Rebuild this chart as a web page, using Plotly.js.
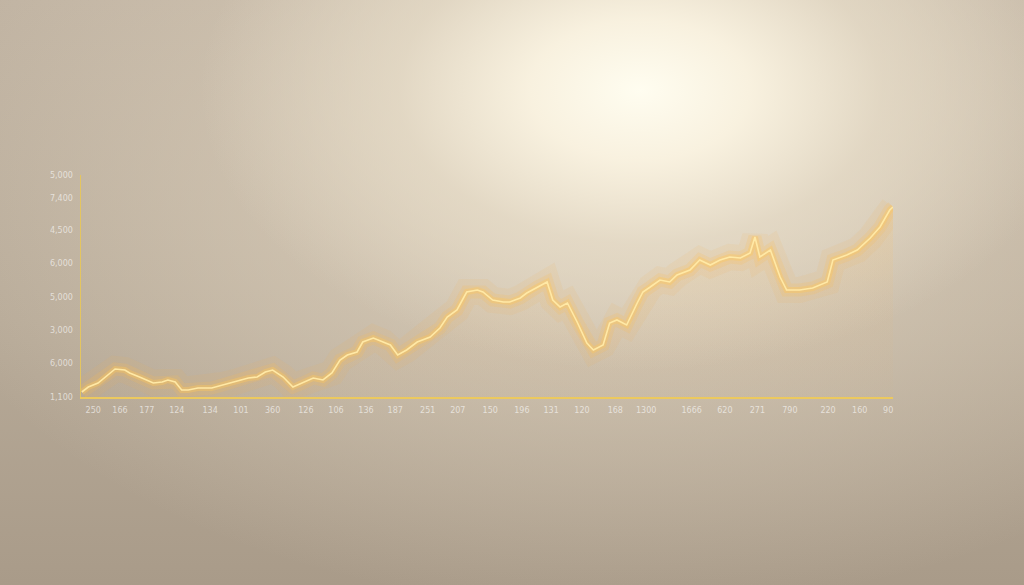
<!DOCTYPE html>
<html>
<head>
<meta charset="utf-8">
<script src="https://cdn.plot.ly/plotly-3.0.1.min.js"></script>
<style>
  html, body { margin: 0; padding: 0; width: 1024px; height: 585px; overflow: hidden; }
  body {
    background:
      radial-gradient(ellipse 440px 280px at 640px 90px, rgba(255,253,240,1) 0%, rgba(250,243,225,0.95) 25%, rgba(232,222,202,0.7) 55%, rgba(210,198,180,0) 100%),
      radial-gradient(ellipse 720px 430px at 620px 180px, rgba(226,214,194,0.9) 0%, rgba(200,188,170,0) 100%),
      linear-gradient(180deg, #c0b3a2 0%, #b7aa98 55%, #a99b89 100%);
  }
  #chart { width: 1024px; height: 585px; }
</style>
</head>
<body>
<div id="chart"></div>
<script>
// Series (x position index, value)
const xs = [0.1,0.9,2.1,3.8,4.2,5.4,6.0,7.5,8.9,10.0,10.7,11.6,12.4,13.2,14.4,16.1,17.4,19.0,20.6,21.7,22.7,23.6,24.9,26.1,27.3,28.6,29.8,30.9,31.9,32.8,34.0,34.7,36.0,37.2,38.1,39.0,40.1,41.4,43.0,44.2,45.1,46.3,47.5,48.8,49.5,50.7,52.0,52.8,54.1,54.9,56.2,57.4,58.1,59.0,59.9,61.1,62.3,63.1,64.3,65.1,66.0,67.2,68.5,69.2,70.1,71.3,72.5,73.4,75.0,76.2,77.5,78.7,79.9,81.2,82.4,83.0,83.6,84.9,86.1,86.9,88.5,90.1,91.9,92.6,94.3,95.6,97.2,98.4,99.6,100];
const values = [1150,1300,1420,1750,1840,1810,1720,1570,1420,1450,1510,1450,1210,1210,1270,1270,1360,1450,1570,1600,1750,1810,1600,1300,1420,1570,1510,1720,2110,2260,2350,2650,2770,2650,2560,2260,2410,2650,2800,3070,3400,3610,4150,4210,4150,3910,3850,3850,3970,4120,4300,4450,3910,3700,3820,3250,2620,2410,2560,3220,3310,3160,3820,4150,4300,4510,4450,4660,4810,5110,4960,5110,5200,5170,5320,5800,5200,5410,4600,4210,4210,4270,4450,5110,5260,5410,5770,6100,6610,6700];

// Tick labels as printed
const xTickVals = [1.5,4.8,8.1,11.8,15.9,19.7,23.6,27.7,31.4,35.1,38.7,42.7,46.4,50.4,54.3,57.9,61.7,65.8,69.6,75.2,79.3,83.3,87.3,92.0,95.9,99.4];
const xTickText = ["250","166","177","124","134","101","360","126","106","136","187","251","207","150","196","131","120","168","1300","1666","620","271","790","220","160","90"];
const yTickVals = [1000,2000,3000,4000,5000,6000,6950,7650];
const yTickText = ["1,100","6,000","3,000","5,000","6,000","4,500","7,400","5,000"];

const haze = {
  x: xs, y: values, type: 'scatter', mode: 'lines', hoverinfo: 'skip',
  line: { color: 'rgba(250,180,80,0.10)', width: 26 },
  fill: 'tozeroy',
  fillgradient: { type: 'vertical', colorscale: [[0, 'rgba(240,170,90,0)'], [0.6, 'rgba(245,185,100,0.07)'], [1, 'rgba(255,200,110,0.2)']] }
};
const glowWide = {
  x: xs, y: values, type: 'scatter', mode: 'lines', hoverinfo: 'skip',
  line: { color: 'rgba(255,190,80,0.18)', width: 13 }
};
const glowMid = {
  x: xs, y: values, type: 'scatter', mode: 'lines', hoverinfo: 'skip',
  line: { color: 'rgba(255,200,90,0.38)', width: 6 }
};
const core = {
  x: xs, y: values, type: 'scatter', mode: 'lines', hoverinfo: 'skip',
  line: { color: '#ffe9a6', width: 1.6 }
};

const tickFont = { family: 'DejaVu Sans, sans-serif', size: 8, color: 'rgba(255,255,255,0.6)' };

const layout = {
  width: 1024, height: 585,
  paper_bgcolor: 'rgba(0,0,0,0)', plot_bgcolor: 'rgba(0,0,0,0)',
  margin: { l: 81, r: 131, t: 175, b: 188 },
  showlegend: false,
  xaxis: {
    range: [0, 100], showgrid: false, zeroline: false,
    showline: true, linecolor: '#ecc95e', linewidth: 2,
    tickmode: 'array', tickvals: xTickVals, ticktext: xTickText,
    ticks: '', tickfont: tickFont, ticklabelstandoff: 4
  },
  yaxis: {
    range: [1000, 7660], showgrid: false, zeroline: false,
    showline: true, linecolor: '#e4c560', linewidth: 1.5,
    tickmode: 'array', tickvals: yTickVals, ticktext: yTickText,
    ticks: '', tickfont: tickFont, ticklabelstandoff: 5
  }
};

Plotly.newPlot('chart', [haze, glowWide, glowMid, core], layout, { staticPlot: true, displayModeBar: false });
</script>
</body>
</html>
